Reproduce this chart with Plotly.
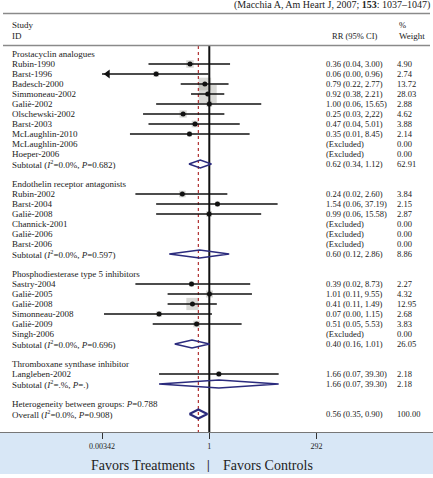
import plotly.graph_objects as go
import math

# ---------------- data ----------------
group_names = ["Prostacyclin analogues", "Endothelin receptor antagonists",
               "Phosphodiesterase type 5 inhibitors", "Thromboxane synthase inhibitor"]

study_group = [0]*10 + [1]*6 + [2]*6 + [3]
study_names = ["Rubin-1990", "Barst-1996", "Badesch-2000", "Simmoneau-2002", "Galiè-2002",
               "Olschewski-2002", "Barst-2003", "McLaughlin-2010", "McLaughlin-2006", "Hoeper-2006",
               "Rubin-2002", "Barst-2004", "Galiè-2008", "Channick-2001", "Galiè-2006", "Barst-2006",
               "Sastry-2004", "Galiè-2005", "Galiè-2008", "Simonneau-2008", "Galiè-2009", "Singh-2006",
               "Langleben-2002"]
study_rr = [0.36, 0.06, 0.79, 0.92, 1.00, 0.25, 0.47, 0.35, None, None,
            0.24, 1.54, 0.99, None, None, None,
            0.39, 1.01, 0.41, 0.07, 0.51, None,
            1.66]
study_lo = [0.04, 0.002, 0.22, 0.38, 0.06, 0.03, 0.04, 0.015, None, None,
            0.02, 0.06, 0.06, None, None, None,
            0.02, 0.11, 0.11, 0.0038, 0.05, None,
            0.07]
study_hi = [3.00, 0.96, 2.77, 2.21, 15.65, 2.22, 5.01, 8.45, None, None,
            2.60, 37.19, 15.58, None, None, None,
            8.73, 9.55, 1.49, 1.15, 5.53, None,
            39.30]
study_weight = [4.90, 2.74, 13.72, 28.03, 2.88, 4.62, 3.88, 2.14, 0.00, 0.00,
                3.84, 2.15, 2.87, 0.00, 0.00, 0.00,
                2.27, 4.32, 12.95, 2.68, 3.83, 0.00,
                2.18]
study_rr_text = ["0.36 (0.04, 3.00)", "0.06 (0.00, 0.96)", "0.79 (0.22, 2.77)", "0.92 (0.38, 2.21)",
                 "1.00 (0.06, 15.65)", "0.25 (0.03, 2,22)", "0.47 (0.04, 5.01)", "0.35 (0.01, 8.45)",
                 "(Excluded)", "(Excluded)",
                 "0.24 (0.02, 2.60)", "1.54 (0.06, 37.19)", "0.99 (0.06, 15.58)",
                 "(Excluded)", "(Excluded)", "(Excluded)",
                 "0.39 (0.02, 8.73)", "1.01 (0.11, 9.55)", "0.41 (0.11, 1.49)", "0.07 (0.00, 1.15)",
                 "0.51 (0.05, 5.53)", "(Excluded)",
                 "1.66 (0.07, 39.30)"]
study_weight_text = ["4.90", "2.74", "13.72", "28.03", "2.88", "4.62", "3.88", "2.14", "0.00", "0.00",
                     "3.84", "2.15", "2.87", "0.00", "0.00", "0.00",
                     "2.27", "4.32", "12.95", "2.68", "3.83", "0.00",
                     "2.18"]

sub_labels = ["Subtotal (<i>I</i><sup>2</sup>=0.0%, <i>P</i>=0.682)",
              "Subtotal (<i>I</i><sup>2</sup>=0.0%, <i>P</i>=0.597)",
              "Subtotal (<i>I</i><sup>2</sup>=0.0%, <i>P</i>=0.696)",
              "Subtotal (<i>I</i><sup>2</sup>=.%, <i>P</i>=.)"]
sub_rr = [0.62, 0.60, 0.40, 1.66]
sub_lo = [0.34, 0.12, 0.16, 0.07]
sub_hi = [1.12, 2.86, 1.01, 39.30]
sub_rr_text = ["0.62 (0.34, 1.12)", "0.60 (0.12, 2.86)", "0.40 (0.16, 1.01)", "1.66 (0.07, 39.30)"]
sub_weight_text = ["62.91", "8.86", "26.05", "2.18"]

het_label = "Heterogeneity between groups: <i>P</i>=0.788"
overall_label = "Overall (<i>I</i><sup>2</sup>=0.0%, <i>P</i>=0.908)"
overall_rr, overall_lo, overall_hi = 0.56, 0.35, 0.90
overall_rr_text = "0.56 (0.35, 0.90)"
overall_weight_text = "100.00"

tick_vals = [0.00342, 1, 292]
tick_text = ["0.00342", "1", "292"]

# ---------------- layout constants ----------------
W, H = 433, 478
FONT = "Liberation Serif"
TXT = "#222222"
NAVY = "#2b2b7d"
LBL_SIZE = 9
VAL_SIZE = 8.5
x_min_val = tick_vals[0]

def px(xp):
    return xp / W

def py(yp):
    return (H - yp) / H

# log scale: value 1 at x=209.3 px, 43.5 px per decade
r0 = -209.3 / 43.5
r1 = (W - 209.3) / 43.5

fig = go.Figure()
ann = []

def text(xp, row, s, anchor="left", size=LBL_SIZE):
    ann.append(dict(x=px(xp), xref="paper", y=row, yref="y", text=s, showarrow=False,
                    xanchor=anchor, yanchor="middle",
                    font=dict(family=FONT, size=size, color=TXT)))

# assign rows
row = 0
study_rows = []
sub_rows = []
group_rows = []
for g in range(len(group_names)):
    group_rows.append(row)
    row += 1
    for i, sg in enumerate(study_group):
        if sg == g:
            study_rows.append(row)
            row += 1
    sub_rows.append(row)
    row += 2
het_row = row
overall_row = row + 1

# squares (weights)
sq_x, sq_y, sq_s = [], [], []
for i in range(len(study_names)):
    if study_rr[i] is not None:
        sq_x.append(study_rr[i]); sq_y.append(study_rows[i]); sq_s.append(3.4 * math.sqrt(study_weight[i]))
fig.add_trace(go.Scatter(x=sq_x, y=sq_y, mode="markers",
                         marker=dict(symbol="square", size=sq_s, color="rgba(165,165,158,0.6)",
                                     line=dict(width=0)), hoverinfo="skip"))

top_row = -0.8
bottom_row = (432 - 54) / 10.0
# reference lines
fig.add_trace(go.Scatter(x=[overall_rr, overall_rr], y=[top_row, bottom_row], mode="lines",
                         line=dict(color="#b03030", width=1.2, dash="3px,3px"), hoverinfo="skip"))
fig.add_trace(go.Scatter(x=[1, 1], y=[top_row, bottom_row], mode="lines",
                         line=dict(color="#111111", width=2), hoverinfo="skip"))

# CI lines
ci_x, ci_y = [], []
arrow_x, arrow_y = [], []
for i in range(len(study_names)):
    if study_rr[i] is None:
        continue
    lo = study_lo[i]
    if lo < x_min_val:
        lo = x_min_val
        arrow_x.append(x_min_val * 1.35); arrow_y.append(study_rows[i])
    ci_x += [lo, study_hi[i], None]
    ci_y += [study_rows[i], study_rows[i], None]
fig.add_trace(go.Scatter(x=ci_x, y=ci_y, mode="lines", line=dict(color="#111111", width=1.6),
                         hoverinfo="skip"))
fig.add_trace(go.Scatter(x=arrow_x, y=arrow_y, mode="markers",
                         marker=dict(symbol="triangle-left", size=8, color="#111111"), hoverinfo="skip"))
# point dots
fig.add_trace(go.Scatter(x=sq_x, y=sq_y, mode="markers",
                         marker=dict(symbol="circle", size=5, color="#111111"), hoverinfo="skip"))

# diamonds
def diamond(est, lo, hi, r, h=0.4, w=1.5):
    fig.add_trace(go.Scatter(x=[lo, est, hi, est, lo], y=[r, r - h, r, r + h, r], mode="lines",
                             line=dict(color=NAVY, width=w), hoverinfo="skip"))

for g in range(len(group_names)):
    diamond(sub_rr[g], sub_lo[g], sub_hi[g], sub_rows[g])
diamond(overall_rr, overall_lo, overall_hi, overall_row, h=0.45, w=2.2)

# text columns
LX, RRX, WX = 10, 324, 395
for g in range(len(group_names)):
    text(LX, group_rows[g], group_names[g])
    text(LX, sub_rows[g], sub_labels[g])
    text(RRX, sub_rows[g], sub_rr_text[g], size=VAL_SIZE)
    text(WX, sub_rows[g], sub_weight_text[g], size=VAL_SIZE)
for i in range(len(study_names)):
    text(LX, study_rows[i], study_names[i])
    text(RRX, study_rows[i], study_rr_text[i], size=VAL_SIZE)
    text(WX, study_rows[i], study_weight_text[i], size=VAL_SIZE)
text(LX, het_row, het_label)
text(LX, overall_row, overall_label)
text(RRX, overall_row, overall_rr_text, size=VAL_SIZE)
text(WX, overall_row, overall_weight_text, size=VAL_SIZE)

# header
def ptext(xp, yp, s, anchor="left", size=LBL_SIZE, ya="middle"):
    ann.append(dict(x=px(xp), xref="paper", y=py(yp), yref="paper", text=s, showarrow=False,
                    xanchor=anchor, yanchor=ya, font=dict(family=FONT, size=size, color=TXT)))

ptext(LX, 25, "Study")
ptext(LX, 36, "ID")
ptext(380, 36, "RR (95% CI)", anchor="right", size=VAL_SIZE)
ptext(397, 25, "%", size=VAL_SIZE)
ptext(397, 36, "Weight")
ptext(432, 5, "(Macchia A, Am Heart J, 2007; <b>153</b>: 1037–1047)", anchor="right", size=10)

# bottom labels
ptext(197, 465, "Favors Treatments", anchor="right", size=14)
ptext(208.5, 465, "<b>|</b>", anchor="center", size=12)
ptext(221, 465, "Favors Controls", anchor="left", size=14)

shapes = [
    dict(type="rect", xref="paper", yref="paper", x0=0, x1=1, y0=py(474), y1=py(432),
         fillcolor="#d8e7f6", line=dict(width=0), layer="below"),
    dict(type="line", xref="paper", yref="paper", x0=px(3), x1=px(430), y0=py(13.5), y1=py(13.5),
         line=dict(color="#8a8a8a", width=1.5)),
    dict(type="line", xref="paper", yref="paper", x0=px(3), x1=px(430), y0=py(45.5), y1=py(45.5),
         line=dict(color="#8a8a8a", width=1.5)),
]

fig.update_layout(
    width=W, height=H, margin=dict(l=0, r=0, t=0, b=0),
    paper_bgcolor="white", plot_bgcolor="rgba(0,0,0,0)",
    showlegend=False, annotations=ann, shapes=shapes,
    xaxis=dict(type="log", range=[r0, r1], domain=[0, 1], anchor="free", position=py(432),
               showgrid=False, zeroline=False, showline=True, linecolor="#777777", linewidth=1,
               ticks="outside", ticklen=6, tickcolor="#333333", tickwidth=1,
               tickvals=tick_vals, ticktext=tick_text,
               tickfont=dict(family=FONT, size=8, color=TXT)),
    yaxis=dict(range=[(H - 54) / 10.0, -5.4], visible=False, domain=[0, 1]),
)

fig.write_html("out.html")
